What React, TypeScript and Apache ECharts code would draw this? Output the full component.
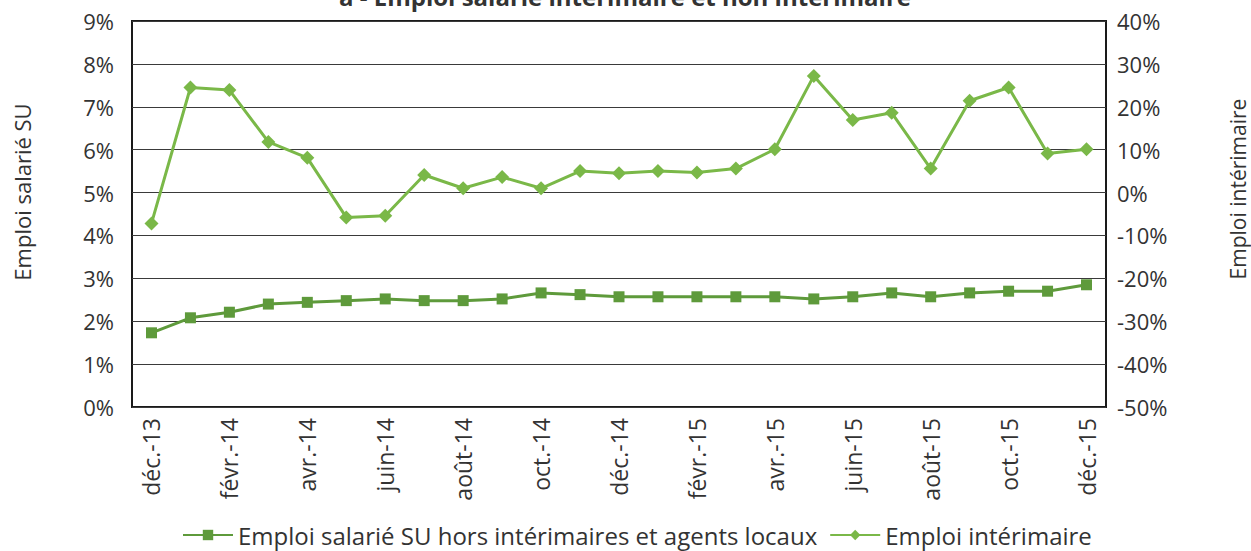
import React, { useEffect, useRef } from "react";
import * as echarts from "echarts";

const categories = [
  "déc.-13", "janv.-14", "févr.-14", "mars-14", "avr.-14", "mai-14", "juin-14",
  "juil.-14", "août-14", "sept.-14", "oct.-14", "nov.-14", "déc.-14",
  "janv.-15", "févr.-15", "mars-15", "avr.-15", "mai-15", "juin-15",
  "juil.-15", "août-15", "sept.-15", "oct.-15", "nov.-15", "déc.-15",
];

const emploiSalarieSU = [
  1.73, 2.08, 2.21, 2.4, 2.44, 2.48, 2.52, 2.48, 2.48, 2.52, 2.66, 2.62, 2.57,
  2.57, 2.57, 2.57, 2.57, 2.52, 2.57, 2.66, 2.57, 2.66, 2.7, 2.7, 2.85,
];

const emploiInterimaire = [
  -7.2, 24.5, 23.9, 11.8, 8.1, -5.8, -5.4, 4.1, 1.0, 3.6, 1.0, 5.0, 4.5,
  5.0, 4.7, 5.6, 10.1, 27.2, 16.9, 18.6, 5.6, 21.4, 24.5, 9.1, 10.1,
];

const seriesNames = [
  "Emploi salarié SU hors intérimaires et agents locaux",
  "Emploi intérimaire",
];
const titleText = "a - Emploi salarié intérimaire et non intérimaire";
const leftAxisName = "Emploi salarié SU";
const rightAxisName = "Emploi intérimaire";

const FONT = "'Open Sans', 'Noto Sans', sans-serif";
const TXT = "#333333";

export default function App() {
  const ref = useRef<HTMLDivElement>(null);
  useEffect(() => {
    if (!ref.current) return;
    const chart = echarts.init(ref.current, undefined, { renderer: "svg" });
    chart.setOption({
      animation: false,
      backgroundColor: "#ffffff",
      textStyle: { fontFamily: FONT },
      grid: {
        left: 132,
        right: 145,
        top: 21,
        bottom: 144,
        show: true,
        borderColor: "#1a1a1a",
        borderWidth: 2,
        backgroundColor: "transparent",
      },
      graphic: [
        {
          type: "text",
          x: 625,
          y: -4,
          style: {
            text: titleText,
            font: `bold 24px ${FONT}`,
            fill: TXT,
            align: "center",
            verticalAlign: "middle",
          },
        },
        {
          type: "text",
          x: 22,
          y: 192,
          rotation: Math.PI / 2,
          style: {
            text: leftAxisName,
            font: `22px ${FONT}`,
            fill: TXT,
            align: "center",
            verticalAlign: "middle",
          },
        },
        {
          type: "text",
          x: 1238,
          y: 189,
          rotation: Math.PI / 2,
          style: {
            text: rightAxisName,
            font: `21px ${FONT}`,
            fill: TXT,
            align: "center",
            verticalAlign: "middle",
          },
        },
      ],
      legend: {
        bottom: 4,
        left: 182,
        padding: 0,
        itemWidth: 50,
        itemHeight: 13,
        itemGap: 12,
        textStyle: { fontSize: 24, color: TXT, fontFamily: FONT },
        data: seriesNames,
      },
      xAxis: {
        type: "category",
        data: categories,
        boundaryGap: true,
        axisLine: { show: false },
        axisTick: { show: false },
        axisLabel: {
          interval: 1,
          rotate: 90,
          margin: 11,
          fontSize: 23,
          color: TXT,
          fontFamily: FONT,
        },
      },
      yAxis: [
        {
          type: "value",
          min: 0,
          max: 9,
          interval: 1,
          axisLine: { show: false },
          axisTick: { show: false },
          axisLabel: {
            formatter: "{value}%",
            fontSize: 22,
            color: TXT,
            margin: 18,
            fontFamily: FONT,
          },
          splitLine: { show: true, lineStyle: { color: "#3a3a3a", width: 1 } },
        },
        {
          type: "value",
          min: -50,
          max: 40,
          interval: 10,
          position: "right",
          axisLine: { show: false },
          axisTick: { show: false },
          axisLabel: {
            formatter: "{value}%",
            fontSize: 22,
            color: TXT,
            margin: 11,
            fontFamily: FONT,
          },
          splitLine: { show: false },
        },
      ],
      series: [
        {
          name: seriesNames[0],
          type: "line",
          yAxisIndex: 0,
          data: emploiSalarieSU,
          symbol: "rect",
          symbolSize: 11,
          lineStyle: { color: "#5e9a3b", width: 3 },
          itemStyle: { color: "#5e9a3b" },
          z: 3,
        },
        {
          name: seriesNames[1],
          type: "line",
          yAxisIndex: 1,
          data: emploiInterimaire,
          symbol: "diamond",
          symbolSize: 14,
          lineStyle: { color: "#7ab848", width: 3 },
          itemStyle: { color: "#7ab848" },
          z: 4,
        },
      ],
    });
    return () => chart.dispose();
  }, []);
  return (
    <div
      ref={ref}
      style={{ position: "fixed", left: 0, top: 0, width: 1251, height: 551 }}
    />
  );
}
